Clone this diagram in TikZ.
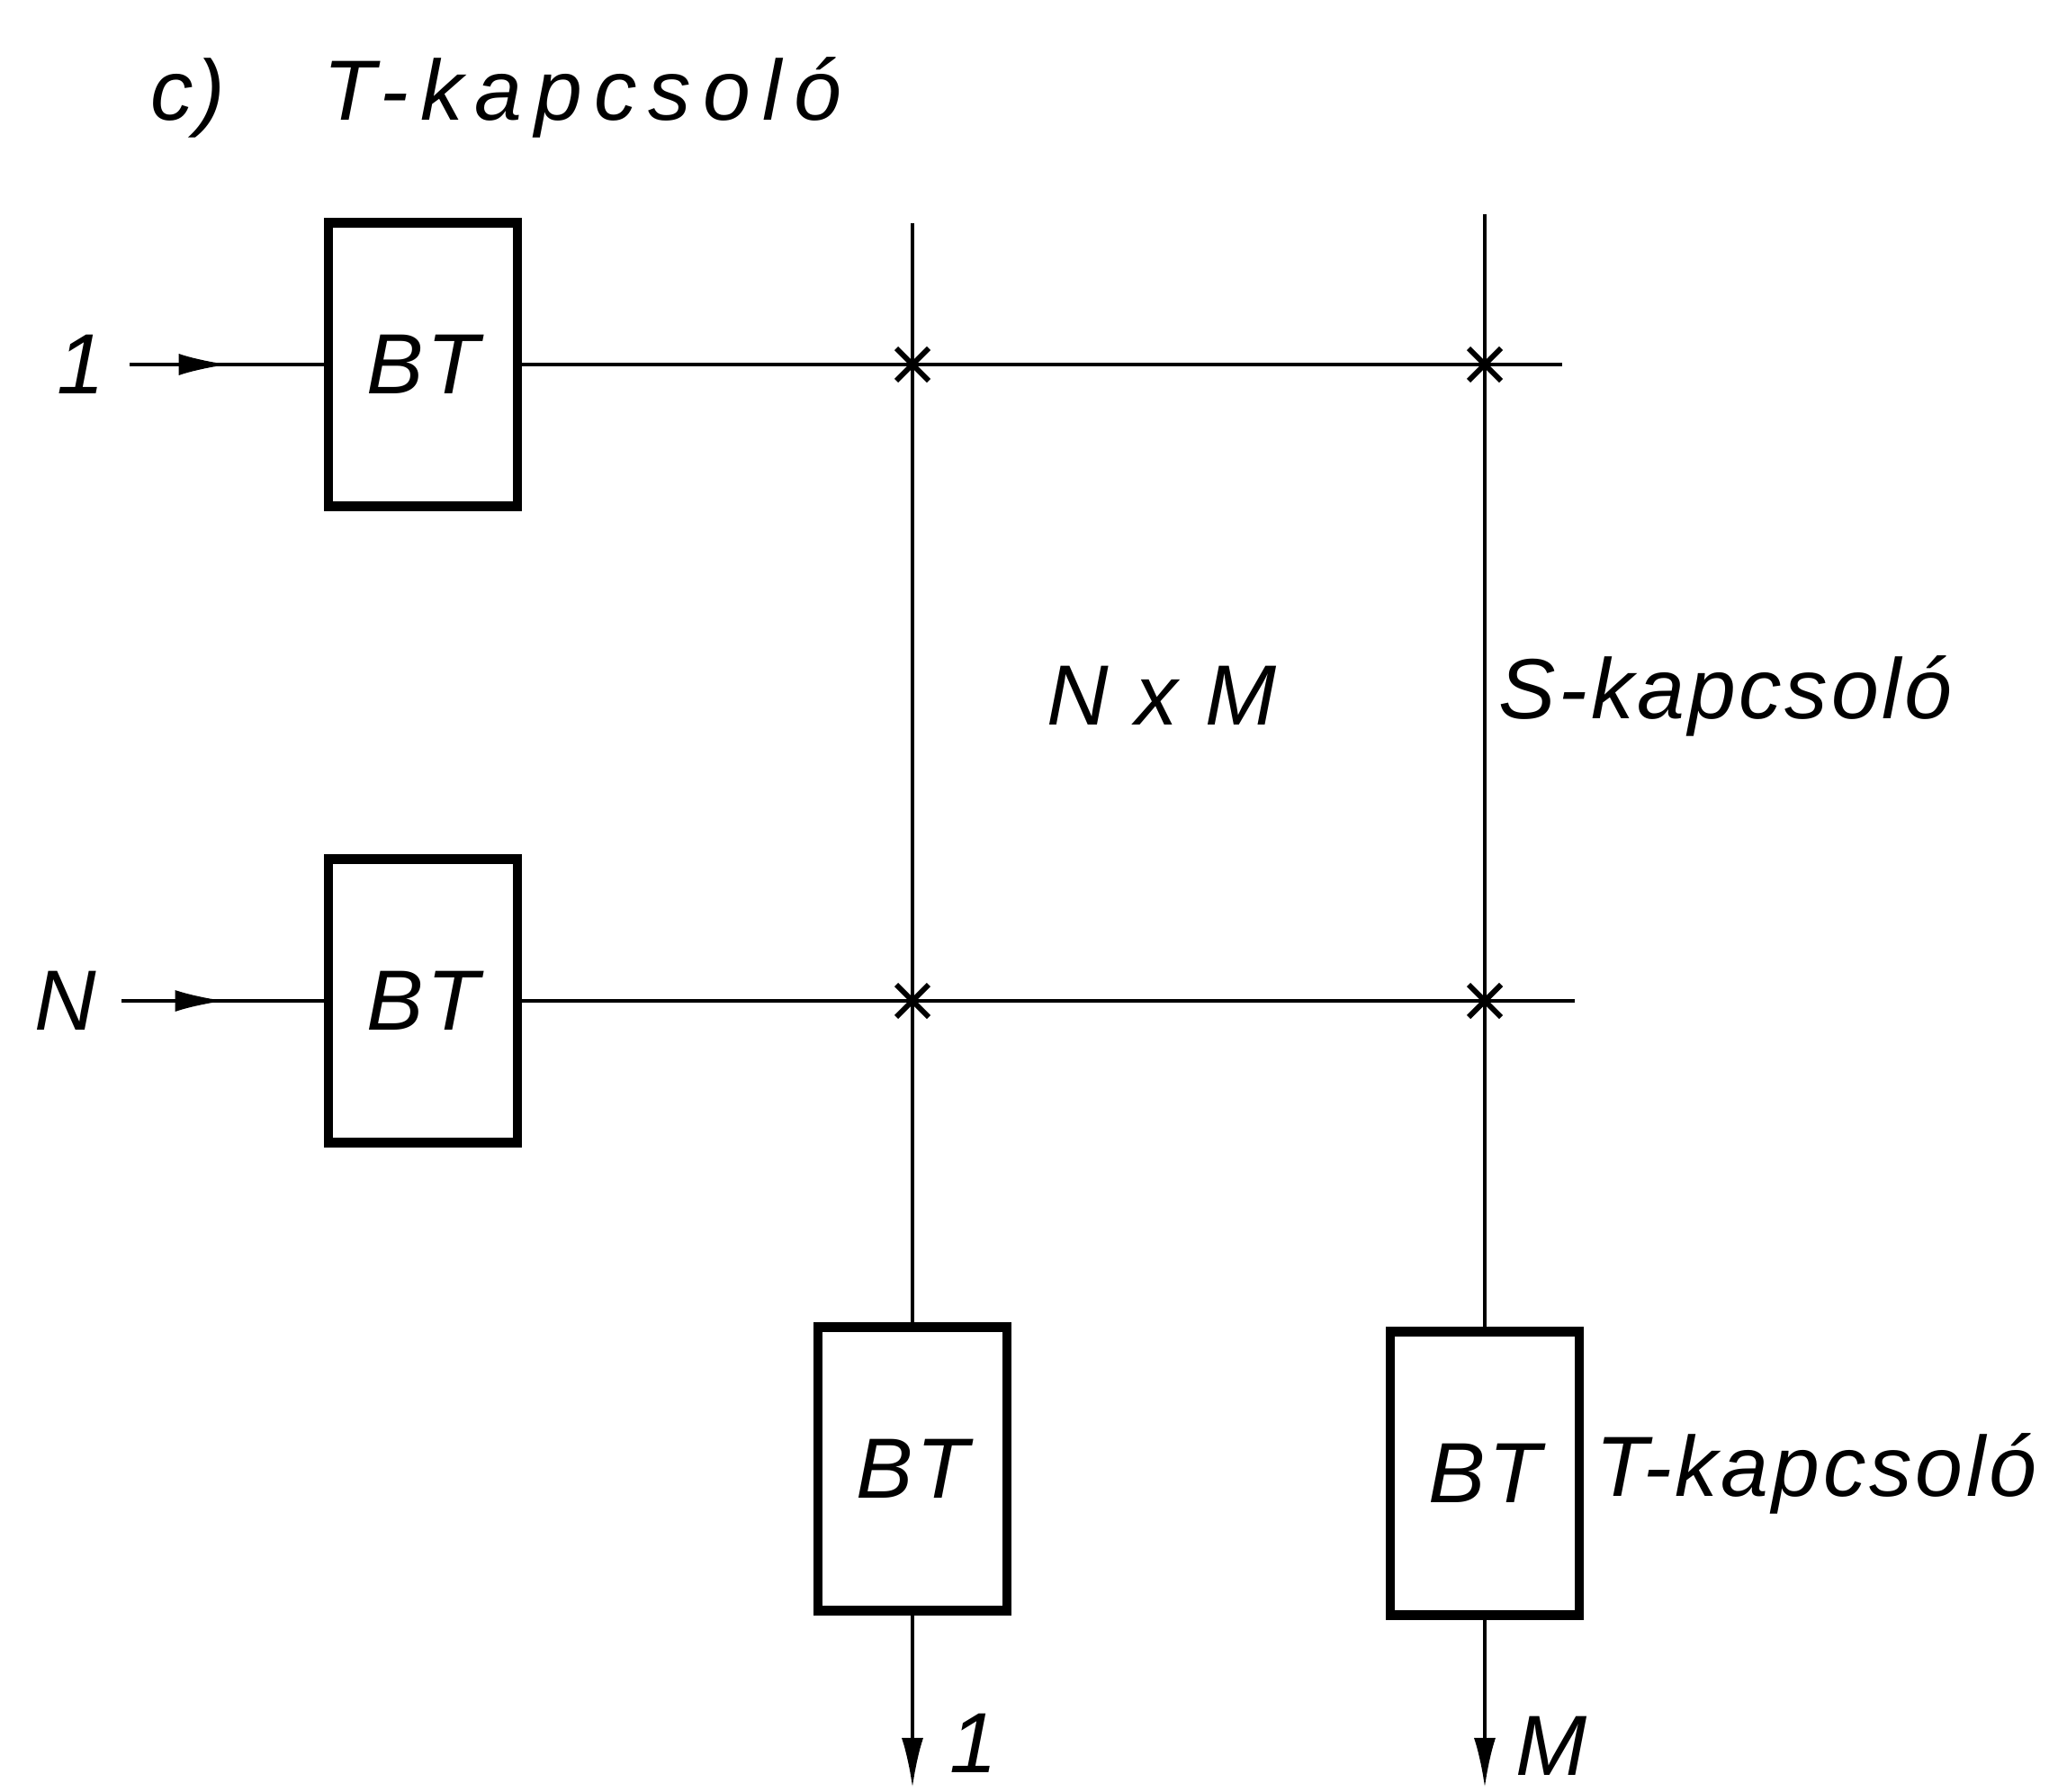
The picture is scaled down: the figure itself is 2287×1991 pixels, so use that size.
\documentclass[tikz,border=0pt]{standalone}
\usepackage{fontspec}
\setmainfont{Liberation Sans}
\usetikzlibrary{arrows.meta,positioning,shapes.misc,decorations.markings}

\begin{document}
\begin{tikzpicture}[
  x=0.01cm, y=-0.01cm,
  font=\fontsize{27}{32}\selectfont\itshape\addfontfeature{LetterSpace=4},
  bt/.style={draw, line width=3pt, minimum width=2.1cm, minimum height=3.15cm,
             inner sep=0pt},
  wire/.style={line width=1.1pt},
  arr/.style={wire, -{Latex[length=5.5mm, width=2.4mm]}},
  midarr/.style={wire, decoration={markings,
                 mark=at position 0.55 with {\arrow{Latex[length=5.5mm, width=2.4mm]}}},
                 postaction={decorate}},
  xpt/.style={cross out, draw, line width=1.7pt, minimum size=0.3cm, inner sep=0pt},
  lbl/.style={inner sep=2pt}
]
\useasboundingbox (0,0) rectangle (2287,1991);

\node[lbl, anchor=base west] (ttlc) at (160,134) {c)};
\node[lbl, anchor=base west] (ttl) at (352,134)
    {\addfontfeature{LetterSpace=14}T-kapcsoló};

% time stages
\node[bt] (bt1) at (470,405) {BT};
\node[bt] (btn) at (470,1112) {BT};
\node[bt] (bto1) at (1014,1632) {BT};
\node[bt] (btom) at (1650,1637) {BT};

% inputs and outputs
\node[lbl] (in1) at (90,405) {1};
\node[lbl] (inn) at (73,1112) {N};
\node[lbl] (out1) at (1082,1937) {1};
\node[lbl] (outm) at (1724,1940) {M};

% space stage
\coordinate (r1end) at (1736,405);
\coordinate (rnend) at (1750,1112);
\coordinate (c1top) at (1014,248);
\coordinate (cmtop) at (1650,238);
\coordinate (o1) at (1014,1986);
\coordinate (om) at (1650,1986);

\draw[midarr, shorten <=2mm] (in1) -- (bt1);
\draw[midarr, shorten <=2mm] (inn) -- (btn);
\draw[wire] (bt1) -- (r1end);
\draw[wire] (btn) -- (rnend);
\draw[wire] (c1top) -- (bto1);
\draw[wire] (cmtop) -- (btom);
\draw[arr] (bto1) -- (o1);
\draw[arr] (btom) -- (om);

\node[xpt] (x11) at (c1top |- bt1) {};
\node[xpt] (x1m) at (cmtop |- bt1) {};
\node[xpt] (xn1) at (c1top |- btn) {};
\node[xpt] (xnm) at (cmtop |- btn) {};

\node[lbl] (nxm) at (1291,773) {N x M};
\node[lbl, anchor=west] (slbl) at (1658,773) {S-kapcsoló};
\node[lbl, right=0.5mm of btom] (tlbl) {T-kapcsoló};
\end{tikzpicture}
\end{document}
